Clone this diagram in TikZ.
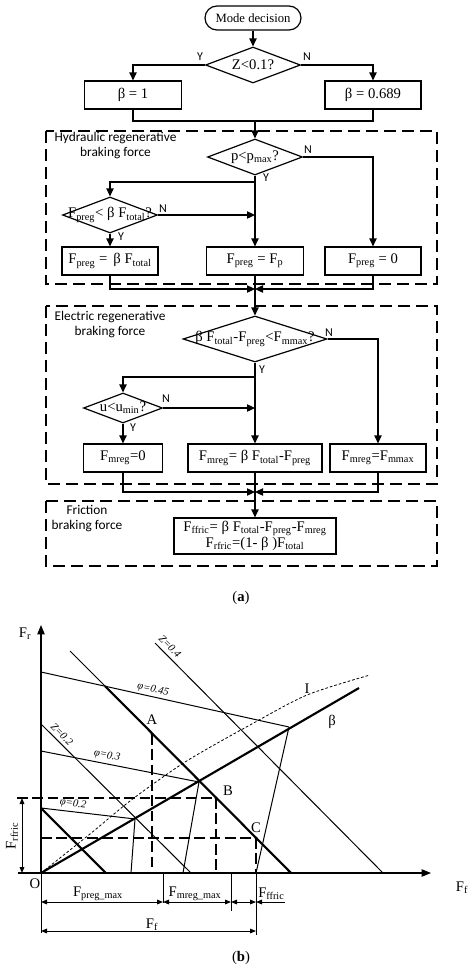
\documentclass[tikz,border=0pt]{standalone}
\usepackage{fontspec}
\setmainfont{Liberation Serif}
\newfontfamily\calib{Carlito}
\usetikzlibrary{arrows.meta,shapes.geometric,calc}
\newcommand{\sbs}[1]{\textsubscript{#1}}
\begin{document}
\begin{tikzpicture}[x=0.75pt,y=-0.75pt,
 fl/.style={line width=0.9pt},
 ar/.style={fl,-{Triangle[length=6pt,width=5.5pt]}},
 box/.style={draw,line width=0.9pt,inner sep=0pt,minimum height=21pt,font=\fontsize{11}{13}\selectfont},
 dia/.style={draw,diamond,line width=0.9pt,inner sep=0pt,font=\fontsize{11}{13}\selectfont},
 yn/.style={font=\calib\fontsize{9}{10}\selectfont,inner sep=0pt},
 frame/.style={line width=0.9pt,dash pattern=on 9pt off 4.5pt},
 grp/.style={font=\calib\fontsize{10}{11.25}\selectfont,align=center,inner sep=0pt},
 thn/.style={line width=0.75pt},
 thk/.style={line width=1.6pt},
 ldash/.style={line width=0.8pt,dash pattern=on 8pt off 3.5pt},
 sdash/.style={line width=0.6pt,dash pattern=on 2pt off 1.5pt},
 axis/.style={line width=0.9pt,-{Triangle[length=7pt,width=5.5pt]}},
 dim/.style={line width=0.75pt,{Triangle[length=4.5pt,width=3.5pt]}-{Triangle[length=4.5pt,width=3.5pt]}},
 lab/.style={font=\fontsize{11}{13}\selectfont,inner sep=0pt},
 sml/.style={font=\itshape\fontsize{8}{9}\selectfont,inner sep=0pt},
]
\useasboundingbox (0,0) rectangle (474,968);

% ---------- flowchart (a) ----------
\node[box,rounded corners=9pt,minimum width=72pt,minimum height=18pt,font=\fontsize{9.5}{11}\selectfont] (start) at (253,18) {Mode decision};
\node[dia,minimum width=71.25pt,minimum height=27pt] (d1) at (253,65) {\makebox[0pt]{Z<0.1?}};
\node[box,minimum width=72.75pt] (b1) at (133,95) {β = 1};
\node[box,minimum width=72pt] (b2) at (373,95) {β = 0.689};

\node[dia,minimum width=71.25pt,minimum height=27pt] (d2) at (255,157) {\makebox[0pt]{p<p\sbs{max}?}};
\node[dia,minimum width=71.25pt,minimum height=27pt] (d3) at (110,215) {\makebox[0pt]{F\sbs{preg}< β F\sbs{total}?}};
\node[box,minimum width=72pt] (b3) at (110,261) {F\sbs{preg} = \,β F\sbs{total}};
\node[box,minimum width=72.75pt] (b4) at (255,261) {F\sbs{preg} = F\sbs{p}};
\node[box,minimum width=72pt] (b5) at (373,261) {F\sbs{preg} = 0};

\node[dia,minimum width=108pt,minimum height=34.5pt] (d4) at (255,339) {\makebox[0pt]{β F\sbs{total}-F\sbs{preg}<F\sbs{mmax}?}};
\node[dia,minimum width=59.25pt,minimum height=22.5pt] (d5) at (123,408) {\makebox[0pt]{u<u\sbs{min}?}};
\node[box,minimum width=59.25pt] (b6) at (123,458) {F\sbs{mreg}=0};
\node[box,minimum width=100.5pt] (b7) at (255,458) {F\sbs{mreg}= β F\sbs{total}-F\sbs{preg}};
\node[box,minimum width=72pt] (b8) at (378,458) {F\sbs{mreg}=F\sbs{mmax}};

\node[box,minimum width=121.5pt,minimum height=27pt,align=center,font=\fontsize{11}{12}\selectfont] (b9) at (255,536) {F\sbs{ffric}= β F\sbs{total}-F\sbs{preg}-F\sbs{mreg}\\F\sbs{rfric}=(1- β )F\sbs{total}};

% frames
\draw[frame] (46,131) rectangle (437,284);
\draw[frame] (46,306) rectangle (437,484);
\draw[frame] (46,501) rectangle (437,566);
\node[grp] (g1) at (115.5,145.5) {Hydraulic regenerative\\braking force};
\node[grp] (g2) at (110,324.5) {Electric regenerative\\braking force};
\node[grp] (g3) at (87,518.5) {Friction\\braking force};

% connectors
\coordinate (j1) at (255,121);
\coordinate (j2) at (255,182);
\coordinate (j4) at (255,289);
\coordinate (j5) at (255,377);
\coordinate (j6) at (255,492);
\draw[ar] (start) -- (d1);
\draw[ar] (d1.west) -| (b1.north);
\draw[ar] (d1.east) -| (b2.north);
\draw[fl] (b1.south) |- (j1) -| (b2.south);
\draw[ar] (j1) -- (d2.north);
\draw[ar] (d2.east) -| (b5.north);
\draw[fl] (d2.south) -- (j2);
\draw[ar] (j2) -| (d3.north);
\draw[ar] (j2) -- (b4.north);
\draw[ar] (d3.east) -- (d3.east -| j2);
\draw[ar] (d3.south) -- (b3.north);
\draw[ar] (b3.south) |- (j4);
\draw[ar] (b5.south) |- (j4);
\draw[ar] (b4.south) -- (d4.north);
\draw[ar] (d4.east) -| (b8.north);
\draw[fl] (d4.south) -- (j5);
\draw[ar] (j5) -| (d5.north);
\draw[ar] (j5) -- (b7.north);
\draw[ar] (d5.east) -- (d5.east -| j5);
\draw[ar] (d5.south) -- (b6.north);
\draw[ar] (b6.south) |- (j6);
\draw[ar] (b8.south) |- (j6);
\draw[ar] (b7.south) -- (b9.north);

\node[yn] (y1) at (200,57) {Y};
\node[yn] (n1) at (307,57) {N};
\node[yn] (n2) at (308,150) {N};
\node[yn] (y2) at (266,178) {Y};
\node[yn] (n3) at (163,209) {N};
\node[yn] (y3) at (121,237) {Y};
\node[yn] (n4) at (329,333) {N};
\node[yn] (y4) at (262,370) {Y};
\node[yn] (n5) at (166,399) {N};
\node[yn] (y5) at (133,428) {Y};

\node[lab] (capa) at (241,598) {(\textbf{a})};

% ---------- chart (b) ----------
\coordinate (O) at (41,873);
\draw[axis] (O) -- (41,625);
\draw[thn] (O) -- (41,933);
\draw[axis] (18,873) -- (431,873);

\draw[thn] (41,672) -- (289,727);
\draw[thn] (41,751) -- (199,782);
\draw[thn] (41,808) -- (135,819);
\draw[thk] (O) -- (359,688);
\draw[thn] (70,651) -- (105,686);
\draw[thk] (105,686) -- (291,873);
\draw[thn] (155,643) -- (383,873);
\draw[thn] (41,724) -- (191,873);
\draw[thk] (41,808) -- (106,873);
\draw[thn] (135,819) -- (131,873);
\draw[thn] (199,782) -- (183,873);
\draw[thn] (289,727) -- (256,873);
\draw[sdash] plot[smooth] coordinates {(41,873) (90,834) (130,801) (173,770) (200,753) (250,725) (307,695) (370,675)};

\draw[ldash] (17,798) -- (216,798);
\draw[ldash] (41,838) -- (256,838);
\draw[ldash] (152,734) -- (152,873);
\draw[ldash] (216,798) -- (216,873);
\draw[ldash] (256,838) -- (256,873);
\fill (152,734) circle (1.6);
\fill (216,798) circle (1.6);
\fill (256,838) circle (1.6);

\draw[dim] (22,798) -- (22,873);
\draw[thn] (163,873) -- (163,903);
\draw[thn] (231,873) -- (231,911);
\draw[thn] (256,873) -- (256,935);
\draw[dim] (41,902) -- (163,902);
\draw[dim] (163,902) -- (231,902);
\draw[dim] (231,902) -- (256,902);
\draw[thn,-{Triangle[length=4.5pt,width=3.5pt]}] (285,902) -- (256,902);
\draw[dim] (41,931) -- (256,931);

\node[lab] (fr) at (25,634) {F\sbs{r}};
\node[lab] (ff) at (462,888) {F\sbs{f}};
\node[lab] (o) at (35,884) {O};
\node[lab] (la) at (152,720) {A};
\node[lab] (lb) at (228,791) {B};
\node[lab] (lc) at (256,828) {C};
\node[lab] (lbeta) at (332,722) {β};
\node[lab] (li) at (307,689) {I};
\node[sml,rotate=-12.5] (p45) at (153,690) {φ=0.45};
\node[sml,rotate=-11] (p30) at (107,756) {φ=0.3};
\node[sml,rotate=-7] (p20) at (73,804) {φ=0.2};
\node[sml,rotate=-45] (z4) at (170,646) {Z=0.4};
\node[sml,rotate=-45] (z2) at (62,734) {Z=0.2};
\node[lab] (dpreg) at (98,894) {F\sbs{preg\_max}};
\node[lab] (dmreg) at (195,894) {F\sbs{mreg\_max}};
\node[lab,anchor=west] (dffric) at (258,894) {F\sbs{ffric}};
\node[lab] (dff) at (152,925) {F\sbs{f}};
\node[lab,rotate=90] (drfric) at (12,836) {F\sbs{rfric}};

\node[lab] (capb) at (241,958) {(\textbf{b})};
\end{tikzpicture}
\end{document}
